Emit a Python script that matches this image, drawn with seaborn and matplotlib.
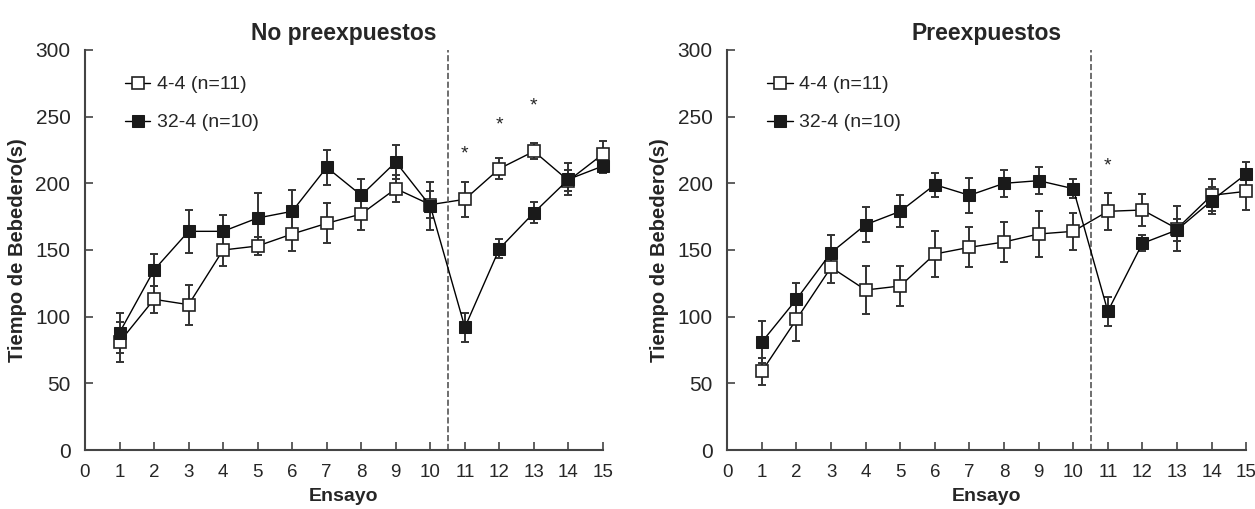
import numpy as np
import pandas as pd
import matplotlib
matplotlib.use("Agg")
import matplotlib.pyplot as plt
import seaborn as sns

# Ensayo (trials)
ensayo = list(range(1, 16))
groups = ["4-4 (n=11)", "32-4 (n=10)"]

# No preexpuestos
nopre_44 = [81, 113, 109, 150, 153, 162, 170, 177, 196, 184, 188, 211, 224, 202, 222]
nopre_44_err = [15, 10, 15, 12, 7, 13, 15, 12, 10, 10, 13, 8, 6, 8, 10]
nopre_324 = [88, 135, 164, 164, 174, 179, 212, 191, 216, 183, 92, 151, 178, 203, 213]
nopre_324_err = [15, 12, 16, 12, 19, 16, 13, 12, 13, 18, 11, 7, 8, 12, 5]
nopre_stars_x = [11, 12, 13]
nopre_stars_y = [222, 244, 258]

# Preexpuestos
pre_44 = [59, 98, 137, 120, 123, 147, 152, 156, 162, 164, 179, 180, 166, 191, 194]
pre_44_err = [10, 16, 12, 18, 15, 17, 15, 15, 17, 14, 14, 12, 17, 12, 14]
pre_324 = [81, 113, 148, 169, 179, 199, 191, 200, 202, 196, 104, 155, 165, 187, 207]
pre_324_err = [16, 12, 13, 13, 12, 9, 13, 10, 10, 7, 11, 6, 8, 10, 9]
pre_stars_x = [11]
pre_stars_y = [213]

sns.set_style("ticks")
plt.rcParams['font.family'] = ['Liberation Sans', 'DejaVu Sans']

fig = plt.figure(figsize=(12.55, 5.09), dpi=100)
ax1 = fig.add_axes([0.0677, 0.1159, 0.4128, 0.7859])
ax2 = fig.add_axes([0.5795, 0.1159, 0.4135, 0.7859])

panels = [
    (ax1, "No preexpuestos", nopre_44, nopre_44_err, nopre_324, nopre_324_err, nopre_stars_x, nopre_stars_y),
    (ax2, "Preexpuestos", pre_44, pre_44_err, pre_324, pre_324_err, pre_stars_x, pre_stars_y),
]

for ax, title, m44, e44, m324, e324, sx, sy in panels:
    # error bars first so markers sit on top
    for m, e in [(m44, e44), (m324, e324)]:
        ax.errorbar(ensayo, m, yerr=e, fmt='none', ecolor='#333333',
                    elinewidth=1.4, capsize=3, capthick=1.4, zorder=1, clip_on=False)
    # 4-4: open squares
    sns.lineplot(x=ensayo, y=m44, color='black', linewidth=1.0, marker='s',
                 markersize=8, markerfacecolor='white', markeredgecolor='#222222',
                 markeredgewidth=1.2, label=groups[0], ax=ax, zorder=2, clip_on=False)
    # 32-4: filled squares
    sns.lineplot(x=ensayo, y=m324, color='black', linewidth=1.0, marker='s',
                 markersize=8, markerfacecolor='#1a1a1a', markeredgecolor='#1a1a1a',
                 label=groups[1], ax=ax, zorder=3, clip_on=False)

    ax.axvline(10.5, ymin=0, ymax=1, color='#555555', linestyle='--', linewidth=1.2)
    for x, y in zip(sx, sy):
        ax.text(x, y, '*', ha='center', va='center', fontsize=14)

    ax.set_xlim(0, 15)
    ax.set_ylim(0, 300)
    ax.set_xticks(range(0, 16))
    ax.set_yticks(range(0, 301, 50))
    ax.tick_params(direction='in', length=6, width=1.2, color='#444444')
    ax.tick_params(axis='x', labelsize=13.5, pad=10)
    ax.tick_params(axis='y', labelsize=15, pad=10.5)
    for s in ['left', 'bottom']:
        ax.spines[s].set_color('#444444')
        ax.spines[s].set_linewidth(1.5)
    sns.despine(ax=ax)
    ax.set_title(title, fontsize=16.5, fontweight='bold', pad=7)
    ax.set_xlabel('Ensayo', fontsize=14, fontweight='bold', labelpad=5)
    ax.set_ylabel('Tiempo de Bebedero(s)', fontsize=14.5, fontweight='bold', labelpad=6)

    ax.legend(loc='upper left', bbox_to_anchor=(0.062, 0.955), frameon=False,
              fontsize=14, handlelength=1.3, handletextpad=0.35,
              labelspacing=1.05, borderaxespad=0)

fig.savefig('out.png', dpi=100)
